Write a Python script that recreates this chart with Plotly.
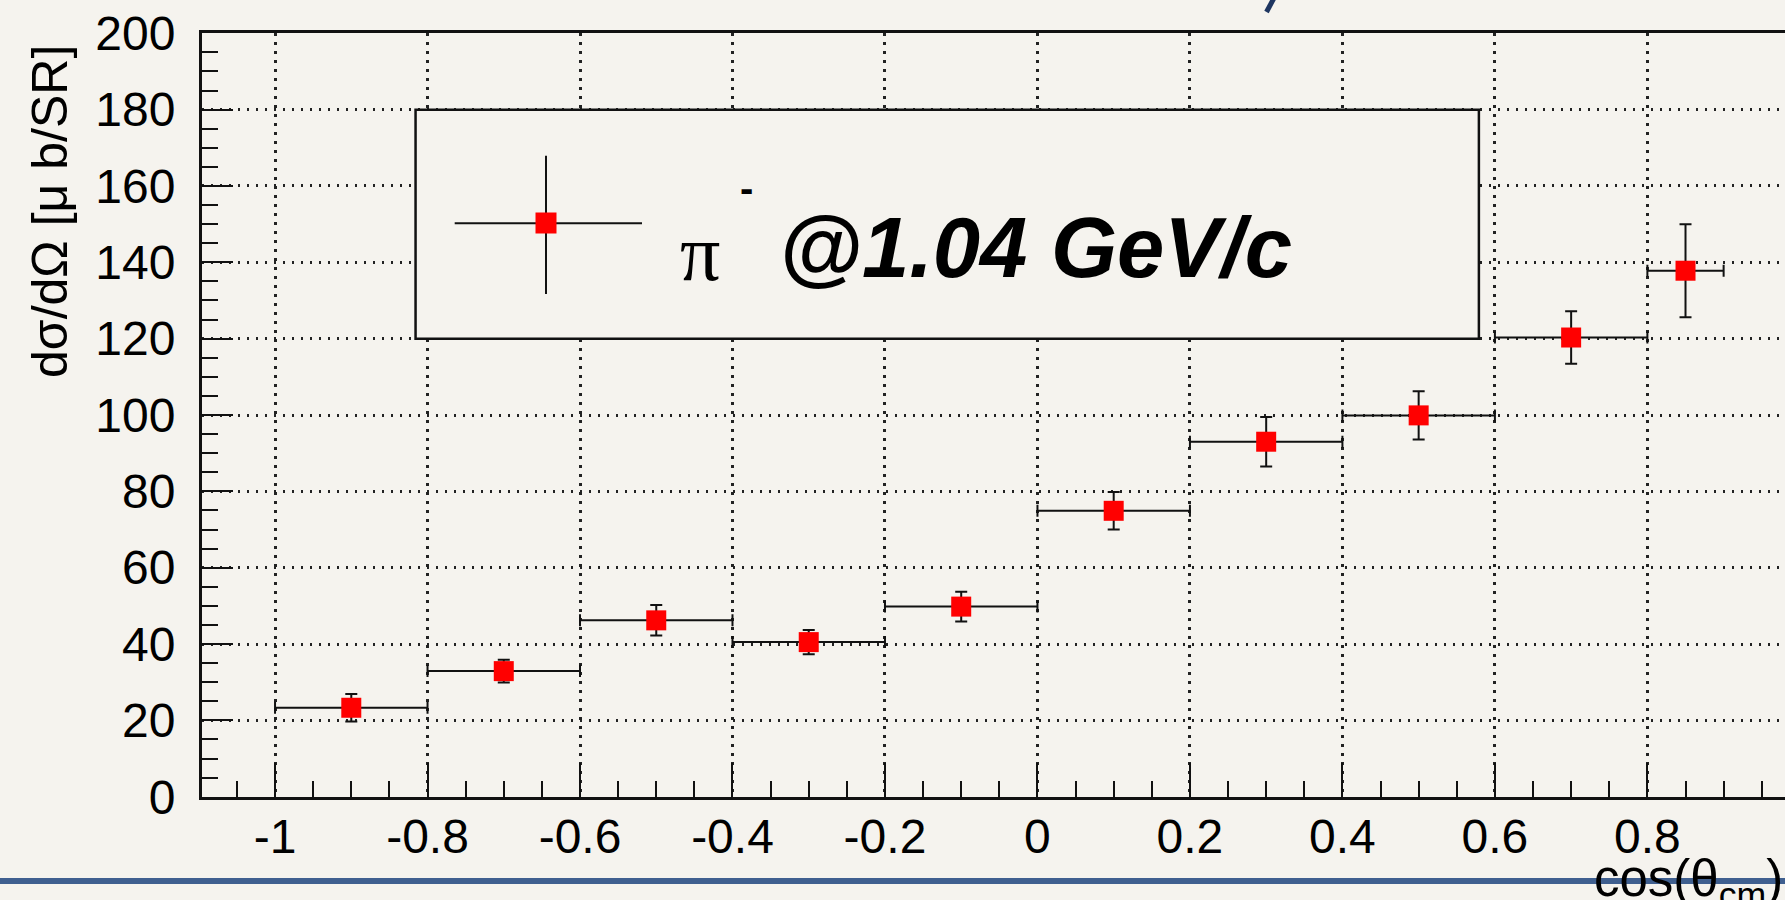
import plotly.graph_objects as go

# ---------------- data ----------------
bin_center = [-0.9, -0.7, -0.5, -0.3, -0.1, 0.1, 0.3, 0.5, 0.7, 0.85]
bin_halfwidth = [0.1, 0.1, 0.1, 0.1, 0.1, 0.1, 0.1, 0.1, 0.1, 0.05]
dsigma = [23.3, 32.9, 46.2, 40.5, 49.8, 74.9, 93.0, 99.9, 120.3, 137.8]
dsigma_err = [3.6, 3.0, 4.0, 3.2, 3.9, 4.9, 6.5, 6.3, 6.9, 12.2]

xtick_vals = [-1.0, -0.8, -0.6, -0.4, -0.2, 0.0, 0.2, 0.4, 0.6, 0.8]
xtick_text = ["-1", "-0.8", "-0.6", "-0.4", "-0.2", "0", "0.2", "0.4", "0.6", "0.8"]
ytick_vals = [0, 20, 40, 60, 80, 100, 120, 140, 160, 180, 200]
ytick_text = ["0", "20", "40", "60", "80", "100", "120", "140", "160", "180", "200"]

legend_label = "@1.04 GeV/c"
x_title = "cos(θ<sub>cm</sub>)"
y_title = "dσ/dΩ [μ b/SR]"

# ---------------- style ----------------
W, H = 1785, 900
BG = "#F5F3EE"
FONT = "Liberation Sans, Arial, Helvetica, sans-serif"


def px(x):
    return x / W


def py(y):
    return 1 - y / H


fig = go.Figure()
fig.add_trace(go.Scatter(
    x=bin_center, y=dsigma,
    mode="markers",
    marker=dict(symbol="square", size=20, color="#FF0000", line=dict(width=0)),
    error_x=dict(type="data", array=bin_halfwidth, symmetric=True,
                 color="#111111", thickness=2, width=6),
    error_y=dict(type="data", array=dsigma_err, symmetric=True,
                 color="#111111", thickness=2, width=6),
    showlegend=False, hoverinfo="x+y",
))

shapes = []
# legend box (covers grid)
shapes.append(dict(type="rect", xref="x", yref="y", x0=-0.8157, x1=0.579, y0=120, y1=180,
                   fillcolor=BG, line=dict(color="#111111", width=2.5), layer="above"))
# legend sample: error cross + red square
shapes.append(dict(type="line", xref="paper", yref="paper", x0=px(546), x1=px(546),
                   y0=py(155.7), y1=py(294), line=dict(color="#111111", width=2), layer="above"))
shapes.append(dict(type="line", xref="paper", yref="paper", x0=px(454.7), x1=px(642),
                   y0=py(223.3), y1=py(223.3), line=dict(color="#111111", width=2), layer="above"))
shapes.append(dict(type="rect", xref="paper", yref="paper", x0=px(535.5), x1=px(556.5),
                   y0=py(233.5), y1=py(212.5), fillcolor="#FF0000", line=dict(width=0), layer="above"))
# slide decorations: blue rule at bottom and fragment of a title at top
shapes.append(dict(type="line", xref="paper", yref="paper", x0=0, x1=1, y0=py(881), y1=py(881),
                   line=dict(color="#3F5F8F", width=6), layer="above"))
shapes.append(dict(type="line", xref="paper", yref="paper", x0=px(1274), x1=px(1266.5),
                   y0=py(-2), y1=py(12), line=dict(color="#1E3560", width=5), layer="above"))

annotations = [
    dict(xref="paper", yref="paper", x=px(700), y=py(253), text="π", showarrow=False,
         xanchor="center", yanchor="middle",
         font=dict(family="Liberation Serif, Times New Roman, serif", size=80, color="#000")),
    dict(xref="paper", yref="paper", x=px(746), y=py(188), text="<b>-</b>", showarrow=False,
         xanchor="center", yanchor="middle", font=dict(family=FONT, size=40, color="#000")),
    dict(xref="paper", yref="paper", x=px(777), y=py(247), text="<b><i>" + legend_label + "</i></b>",
         showarrow=False, xanchor="left", yanchor="middle",
         font=dict(family=FONT, size=85, color="#000")),
    dict(xref="paper", yref="paper", x=1, y=py(882), text=x_title, showarrow=False,
         xanchor="right", yanchor="middle", font=dict(family=FONT, size=51, color="#000")),
    dict(xref="paper", yref="paper", x=px(50), y=py(212), text=y_title, showarrow=False,
         textangle=-90, xanchor="center", yanchor="middle",
         font=dict(family=FONT, size=50, color="#000")),
]

fig.update_layout(
    width=W, height=H, autosize=False,
    margin=dict(l=0, r=0, t=0, b=0, pad=0, autoexpand=False),
    paper_bgcolor=BG, plot_bgcolor=BG,
    font=dict(family=FONT, color="#000"),
    shapes=shapes, annotations=annotations,
    showlegend=False,
)

fig.update_xaxes(
    domain=[201.7 / W, 1.0], range=[-1.0962, 0.9805], automargin=False,
    tickmode="array", tickvals=xtick_vals, ticktext=xtick_text,
    ticks="inside", ticklen=34, tickwidth=2, tickcolor="#111111",
    tickfont=dict(family=FONT, size=48, color="#000"), ticklabelstandoff=-4,
    showline=True, linecolor="#111111", linewidth=2.5, mirror=True,
    showgrid=True, gridcolor="#222222", gridwidth=2.5, griddash="2.5px,6.5px",
    zeroline=False,
    minor=dict(ticks="inside", ticklen=16, tickwidth=2, tickcolor="#111111",
               tick0=-1.0, dtick=0.05, showgrid=False),
)
fig.update_yaxes(
    domain=[(H - 796.7) / H, (H - 33.3) / H], range=[0, 200], automargin=False,
    tickmode="array", tickvals=ytick_vals, ticktext=ytick_text,
    ticks="inside", ticklen=32, tickwidth=2, tickcolor="#111111",
    tickfont=dict(family=FONT, size=48, color="#000"), ticklabelstandoff=14,
    showline=True, linecolor="#111111", linewidth=2.5, mirror=False,
    showgrid=True, gridcolor="#222222", gridwidth=2.5, griddash="2.5px,6.5px",
    zeroline=False,
    minor=dict(ticks="inside", ticklen=17, tickwidth=2, tickcolor="#111111",
               tick0=0, dtick=5, showgrid=False),
)

fig.write_html("out.html")
